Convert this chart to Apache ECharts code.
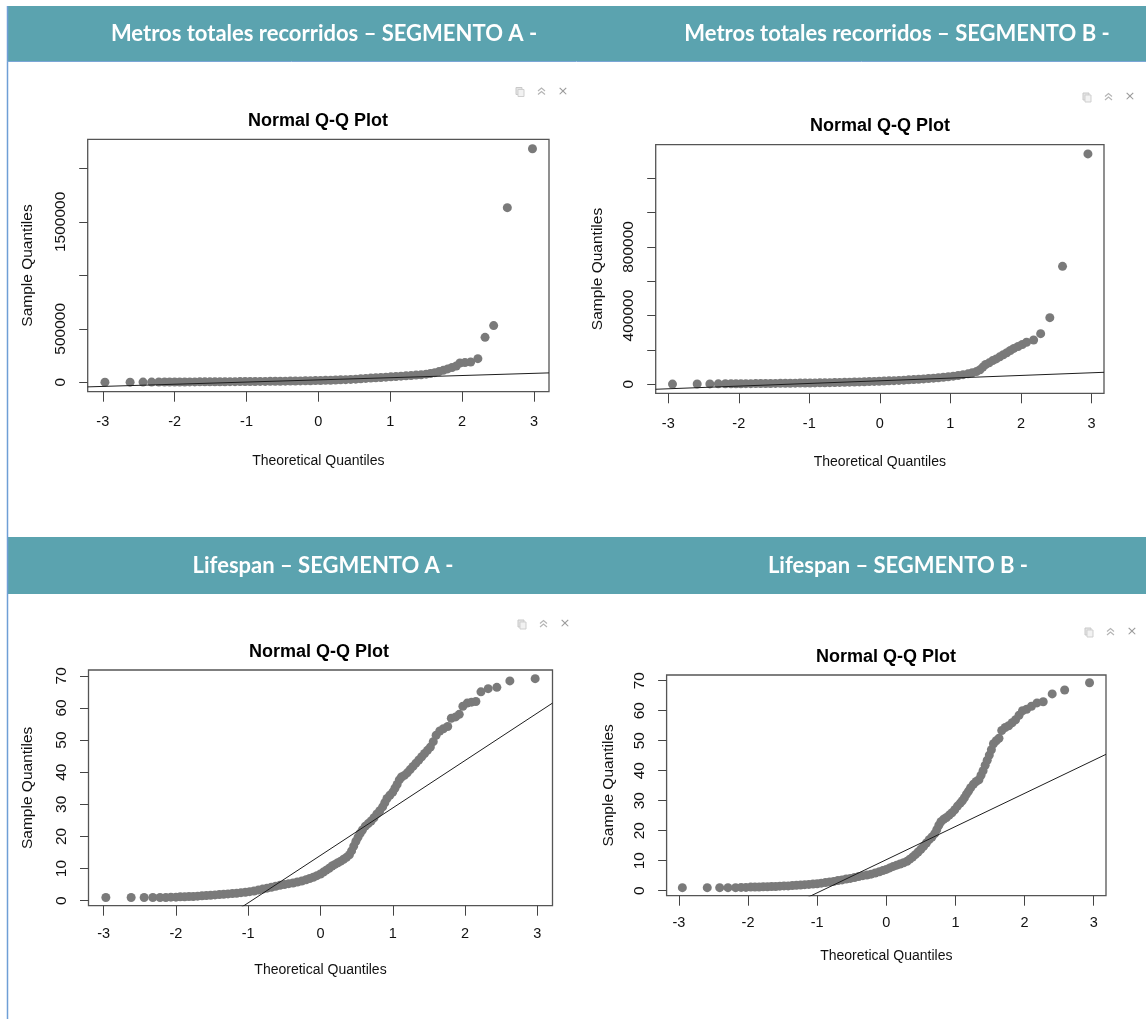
<!DOCTYPE html>
<html><head><meta charset="utf-8">
<script src="https://cdn.jsdelivr.net/npm/echarts@6/dist/echarts.min.js"></script>
<style>html,body{margin:0;padding:0;background:#fff}#c{width:1146px;height:1019px}</style>
</head><body><div id="c"></div>
<script>
// ---------- headers / titles ----------
const headerTexts = ['Metros totales recorridos \u2013 SEGMENTO A -', 'Metros totales recorridos \u2013 SEGMENTO B -', 'Lifespan \u2013 SEGMENTO A -', 'Lifespan \u2013 SEGMENTO B -'];
const plotTitle = 'Normal Q-Q Plot';
const xName = 'Theoretical Quantiles';
const yName = 'Sample Quantiles';

// ---------- tick values ----------
const xTicks = [-3, -2, -1, 0, 1, 2, 3];
const metrosATicks = [0, 500000, 1000000, 1500000, 2000000];
const metrosALabels = [0, 500000, 1500000];
const metrosBTicks = [0, 200000, 400000, 600000, 800000, 1000000, 1200000];
const metrosBLabels = [0, 400000, 800000];
const lifeTicks = [0, 10, 20, 30, 40, 50, 60, 70];

// ---------- Metros A ----------
const metrosA_theo = [-2.97,-2.62,-2.44,-2.32,-2.22,-2.14,-2.07,-2.00,-1.93,-1.86,-1.79,-1.72,-1.65,-1.58,-1.51,-1.44,-1.37,-1.30,-1.23,-1.16,-1.09,-1.02,-0.95,-0.88,-0.81,-0.74,-0.67,-0.60,-0.53,-0.46,-0.39,-0.32,-0.25,-0.18,-0.11,-0.04,0.03,0.10,0.17,0.24,0.31,0.38,0.45,0.52,0.59,0.66,0.73,0.80,0.87,0.94,1.01,1.08,1.15,1.22,1.29,1.36,1.43,1.50,1.56,1.62,1.68,1.74,1.80,1.86,1.92,1.97,2.04,2.12,2.22,2.32,2.44,2.63,2.98];
const metrosA_sample = [1000,1500,1800,2000,2200,2400,2600,2800,3000,3200,3400,3700,3900,4200,4500,4800,5100,5400,5800,6100,6500,6900,7300,7700,8100,8500,8900,9400,10000,10700,11400,12200,13000,13900,14900,15900,17000,18200,19500,21000,22800,24700,27000,29500,32500,36000,39000,42000,45000,48000,51000,54000,57000,60000,63000,67000,71000,76000,82000,90000,100000,112000,125000,138000,152000,180000,184000,190000,221000,420000,530000,1633000,2184000];
const metrosA_line = [[-3.21, -43000], [3.21, 87900]];

// ---------- Metros B ----------
const metrosB_theo = [-2.94,-2.59,-2.41,-2.29,-2.19,-2.11,-2.04,-1.97,-1.90,-1.83,-1.76,-1.69,-1.62,-1.55,-1.48,-1.41,-1.34,-1.27,-1.20,-1.13,-1.06,-0.99,-0.92,-0.85,-0.78,-0.71,-0.64,-0.57,-0.50,-0.43,-0.36,-0.29,-0.22,-0.15,-0.08,-0.01,0.06,0.13,0.20,0.27,0.34,0.41,0.48,0.55,0.62,0.69,0.76,0.83,0.90,0.97,1.04,1.11,1.18,1.25,1.31,1.37,1.42,1.46,1.50,1.55,1.60,1.65,1.70,1.75,1.80,1.85,1.90,1.96,2.02,2.08,2.18,2.28,2.41,2.59,2.95];
const metrosB_sample = [1200,1800,2200,2500,2800,3000,3200,3400,3600,3800,4000,4300,4600,4900,5200,5500,5800,6100,6500,6900,7300,7700,8100,8600,9100,9600,10200,10800,11500,12200,13000,13800,14700,15600,16600,17700,18800,20000,21300,22700,24200,25800,27500,29300,31300,33400,35700,38200,41000,44000,47500,51500,56000,61000,67000,74000,85000,100000,115000,125000,138000,148000,160000,172000,184000,197000,209000,220000,232000,245000,258000,295000,388000,687000,1342000];
const metrosB_line = [[-3.178, -29000], [3.178, 69800]];

// ---------- Lifespan A ----------
const lifeA_theo = [-2.97,-2.62,-2.44,-2.32,-2.22,-2.14,-2.07,-2.00,-1.94,-1.88,-1.82,-1.76,-1.70,-1.64,-1.58,-1.52,-1.46,-1.40,-1.34,-1.28,-1.22,-1.16,-1.10,-1.04,-0.98,-0.92,-0.86,-0.80,-0.74,-0.68,-0.62,-0.56,-0.50,-0.44,-0.38,-0.32,-0.26,-0.20,-0.15,-0.10,-0.05,0.00,0.04,0.08,0.12,0.16,0.20,0.24,0.28,0.32,0.36,0.40,0.43,0.46,0.49,0.52,0.55,0.58,0.62,0.66,0.70,0.74,0.78,0.82,0.86,0.89,0.92,0.96,1.00,1.03,1.06,1.09,1.12,1.16,1.20,1.24,1.28,1.32,1.36,1.40,1.44,1.48,1.52,1.56,1.60,1.65,1.70,1.76,1.81,1.87,1.92,1.97,2.03,2.09,2.15,2.22,2.32,2.44,2.62,2.97];
const lifeA_sample = [1,1,1,1,1,1,1.1,1.1,1.2,1.2,1.3,1.3,1.4,1.5,1.6,1.7,1.8,1.9,2.0,2.1,2.2,2.3,2.5,2.6,2.8,3.0,3.3,3.6,3.9,4.2,4.5,4.8,5.0,5.3,5.5,5.8,6.1,6.5,6.9,7.3,7.8,8.3,8.9,9.5,10.1,10.8,11.3,11.8,12.3,12.9,13.5,14.3,15.5,17.0,18.5,19.8,21.0,22.0,23.2,24.0,24.8,25.8,27.0,28.0,29.2,30.5,31.8,32.8,33.8,35.0,36.2,37.6,38.5,39.0,39.8,40.8,41.8,42.8,43.8,44.8,45.8,46.8,47.8,49.5,51.5,52.8,53.5,54.2,56.8,57.2,58.0,60.5,61.5,61.8,62.0,65.0,66.0,66.4,68.4,69.1];
const lifeA_line = [[-3.21, -33.3], [3.21, 61.5]];

// ---------- Lifespan B ----------
const lifeB_theo = [-2.95,-2.59,-2.41,-2.29,-2.18,-2.10,-2.03,-1.96,-1.90,-1.84,-1.78,-1.72,-1.66,-1.60,-1.54,-1.48,-1.42,-1.36,-1.30,-1.24,-1.18,-1.12,-1.06,-1.00,-0.94,-0.88,-0.82,-0.76,-0.70,-0.64,-0.58,-0.52,-0.46,-0.40,-0.34,-0.28,-0.22,-0.16,-0.10,-0.05,0.00,0.05,0.10,0.15,0.20,0.25,0.30,0.34,0.38,0.42,0.46,0.50,0.54,0.58,0.62,0.66,0.70,0.73,0.76,0.79,0.83,0.87,0.91,0.95,0.99,1.03,1.07,1.10,1.13,1.16,1.19,1.22,1.26,1.30,1.34,1.37,1.40,1.43,1.46,1.49,1.52,1.55,1.59,1.63,1.67,1.72,1.77,1.82,1.87,1.92,1.97,2.03,2.10,2.18,2.27,2.40,2.58,2.94];
const lifeB_sample = [1,1,1,1,1,1.1,1.1,1.2,1.2,1.2,1.3,1.3,1.4,1.4,1.5,1.6,1.6,1.7,1.8,1.9,2.0,2.1,2.2,2.3,2.5,2.7,2.9,3.1,3.4,3.6,3.9,4.1,4.4,4.7,5.0,5.2,5.5,5.9,6.3,6.7,7.1,7.6,8.1,8.5,8.9,9.3,9.8,10.5,11.2,12.0,12.9,13.8,14.8,15.9,17.0,17.9,19.0,20.3,21.8,23.0,23.8,24.4,25.2,26.0,27.0,28.2,29.2,30.0,31.0,32.2,33.2,34.3,35.5,36.4,37.0,38.5,40.0,41.8,43.5,45.2,47.0,49.0,50.0,50.8,53.4,54.4,55.0,56.0,57.0,58.5,60.0,60.5,61.5,62.6,63.0,65.6,66.9,69.3];
const lifeB_line = [[-3.178, -24.78], [3.178, 45.46]];

// ---------- layout ----------
const grids = [
  {left: 87.7, top: 139.3, width: 461.3, height: 252.4},
  {left: 655.7, top: 144.7, width: 448.3, height: 248.6},
  {left: 88.5, top: 670, width: 464, height: 235.7},
  {left: 666.6, top: 675, width: 439.4, height: 220.7}
];
const xRanges = [[-3.21, 3.21], [-3.178, 3.178], [-3.21, 3.21], [-3.178, 3.178]];
const yRanges = [[-88000, 2272000], [-52500, 1395500], [-1.56, 71.8], [-1.67, 71.9]];
const yTickSets = [metrosATicks, metrosBTicks, lifeTicks, lifeTicks];
const yLabelSets = [metrosALabels, metrosBLabels, lifeTicks, lifeTicks];
const xLabelMargins = [23, 23, 21, 20];
const xNameGaps = [62, 62, 57, 53];
const yNameGaps = [52, 50, 53, 50];
const titlePos = [[318, 121], [880, 126], [319, 652], [886, 657]];
const iconPos = [[520, 91.5], [1087, 97], [522, 624], [1089, 632]];
const headerRects = [[7, 6, 1139, 55], [7, 537, 1139, 57]];
const headerTextPos = [[324, 33.5], [897, 33.5], [323, 566], [898, 566]];

const theo = [metrosA_theo, metrosB_theo, lifeA_theo, lifeB_theo];
const samp = [metrosA_sample, metrosB_sample, lifeA_sample, lifeB_sample];
const lines = [metrosA_line, metrosB_line, lifeA_line, lifeB_line];

const axisFont = 'Liberation Sans';
const xAxes = [], yAxes = [], series = [];
for (let i = 0; i < 4; i++) {
  xAxes.push({
    type: 'value', gridIndex: i, min: xRanges[i][0], max: xRanges[i][1],
    axisLine: {show: false, onZero: false}, splitLine: {show: false},
    axisTick: {show: true, length: 10, customValues: xTicks, lineStyle: {color: '#444', width: 1}},
    axisLabel: {customValues: xTicks, margin: xLabelMargins[i], color: '#111', fontSize: 14.5, fontFamily: axisFont},
    name: xName, nameLocation: 'middle', nameGap: xNameGaps[i],
    nameTextStyle: {color: '#111', fontSize: 14, fontFamily: axisFont}
  });
  yAxes.push({
    type: 'value', gridIndex: i, min: yRanges[i][0], max: yRanges[i][1],
    axisLine: {show: false, onZero: false}, splitLine: {show: false},
    axisTick: {show: true, length: 8.5, customValues: yTickSets[i], lineStyle: {color: '#444', width: 1}},
    axisLabel: {customValues: yLabelSets[i], rotate: 90, margin: 19, color: '#111', fontSize: 15.5, fontFamily: axisFont,
      formatter: v => String(v)},
    name: yName, nameLocation: 'middle', nameGap: yNameGaps[i], nameRotate: 90,
    nameTextStyle: {color: '#111', fontSize: 15.5, fontFamily: axisFont}
  });
  series.push({
    type: 'scatter', xAxisIndex: i, yAxisIndex: i, symbol: 'circle', symbolSize: 9,
    itemStyle: {color: '#7a7a7a', opacity: 1}, z: 2,
    data: theo[i].map((x, k) => [x, samp[i][k]])
  });
  series.push({
    type: 'line', xAxisIndex: i, yAxisIndex: i, symbol: 'none', clip: true, z: 3,
    lineStyle: {color: '#1e1e1e', width: 1}, data: lines[i]
  });
}

const graphics = [];
headerRects.forEach(r => graphics.push({type: 'rect', shape: {x: r[0], y: r[1], width: r[2], height: r[3]}, style: {fill: '#5ba3af'}, z: 1}));
graphics.push({type: 'line', shape: {x1: 7.5, y1: 6, x2: 7.5, y2: 1019}, style: {stroke: '#6f9fd6', lineWidth: 1.5}, z: 2});
graphics.push({type: 'line', shape: {x1: 7, y1: 61.5, x2: 1146, y2: 61.5}, style: {stroke: '#7aa6d6', lineWidth: 1}, z: 2});
headerTexts.forEach((t, i) => graphics.push({type: 'text', x: headerTextPos[i][0], y: headerTextPos[i][1], z: 3,
  style: {text: t, fill: '#ffffff', font: 'bold 22px Lato', align: 'center', verticalAlign: 'middle', textAlign: 'center', textVerticalAlign: 'middle'}}));
titlePos.forEach(p => graphics.push({type: 'text', x: p[0], y: p[1], z: 3,
  style: {text: plotTitle, fill: '#000', font: 'bold 18px "Liberation Sans"', align: 'center', verticalAlign: 'middle', textAlign: 'center', textVerticalAlign: 'middle'}}));
iconPos.forEach(p => {
  const [cx, cy] = p;
  graphics.push({type: 'rect', shape: {x: cx - 4, y: cy - 4, width: 6, height: 7}, style: {fill: '#e4e4e4', stroke: '#c9c9c9', lineWidth: 1}, z: 3});
  graphics.push({type: 'rect', shape: {x: cx - 2, y: cy - 2, width: 6, height: 7}, style: {fill: '#f2f2f2', stroke: '#cfcfcf', lineWidth: 1}, z: 3});
  const ax = cx + 21.5;
  graphics.push({type: 'polyline', shape: {points: [[ax - 3.5, cy - 0.5], [ax, cy - 3.5], [ax + 3.5, cy - 0.5]]}, style: {stroke: '#b5b5b5', lineWidth: 1.2, fill: null}, z: 3});
  graphics.push({type: 'polyline', shape: {points: [[ax - 3.5, cy + 3], [ax, cy], [ax + 3.5, cy + 3]]}, style: {stroke: '#b5b5b5', lineWidth: 1.2, fill: null}, z: 3});
  graphics.push({type: 'text', x: cx + 43, y: cy, z: 3,
    style: {text: '\u00d7', fill: '#9a9a9a', font: '13px "DejaVu Sans"', align: 'center', verticalAlign: 'middle', textAlign: 'center', textVerticalAlign: 'middle'}});
});

const chart = echarts.init(document.getElementById('c'), null, {renderer: 'canvas'});
chart.setOption({
  animation: false,
  backgroundColor: '#ffffff',
  grid: grids.map(g => Object.assign({show: true, borderColor: '#555', borderWidth: 1.3, backgroundColor: 'transparent', containLabel: false}, g)),
  xAxis: xAxes,
  yAxis: yAxes,
  series: series,
  graphic: graphics
});
</script></body></html>
